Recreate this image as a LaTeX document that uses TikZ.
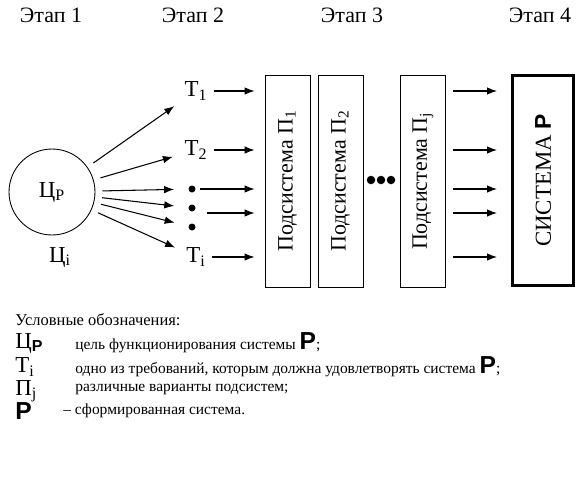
\documentclass[tikz,border=0pt]{standalone}
\usepackage{fontspec}
\setmainfont{Liberation Serif}
\newfontfamily\psans{Liberation Sans}
\usetikzlibrary{arrows.meta}
\newcommand{\sysP}{{\psans\bfseries P}}
\begin{document}
\begin{tikzpicture}[x=0.02cm, y=-0.02cm,
    stage/.style={font=\fontsize{12.5}{15}\selectfont},
    req/.style={font=\fontsize{13}{15}\selectfont, inner sep=1pt},
    dot/.style={circle, fill=black, inner sep=0pt, minimum size=0.14cm},
    subsys/.style={draw, line width=0.5pt, minimum width=0.9cm, minimum height=4.24cm},
    boxtext/.style={rotate=90, font=\fontsize{12.5}{15}\selectfont},
    arr/.style={-{Latex[length=2mm, width=1.5mm]}, line width=0.6pt},
    legsym/.style={anchor=west, font=\fontsize{13}{15}\selectfont, inner sep=0pt},
    legtext/.style={anchor=west, font=\fontsize{8.8}{10}\selectfont, inner sep=0pt}]
    \useasboundingbox (0,0) rectangle (581,484);
    % Stages
    \node[stage] (stage1) at (51,15) {Этап 1};
    \node[stage] (stage2) at (193,15) {Этап 2};
    \node[stage] (stage3) at (352,15) {Этап 3};
    \node[stage] (stage4) at (540,15) {Этап 4};
    % Goal
    \node[draw, circle, line width=0.5pt, minimum size=1.72cm, font=\fontsize{13}{15}\selectfont] (goal) at (52,192) {Ц\textsubscript{Р}};
    \node[req] (goali) at (60,257) {Ц\textsubscript{i}};
    % Requirements
    \node[req] (t1) at (196,91) {Т\textsubscript{1}};
    \node[req] (t2) at (196,150) {Т\textsubscript{2}};
    \node[dot] (d1) at (192,189) {};
    \node[dot] (d2) at (192,208) {};
    \node[dot] (d3) at (192,227) {};
    \node[req] (ti) at (196,257) {Т\textsubscript{i}};
    \coordinate (dm) at (203,213);
    % Subsystems
    \node[subsys] (p1) at (287.5,181) {};
    \node[boxtext] (p1text) at (p1) {Подсистема П\textsubscript{1}};
    \node[subsys] (p2) at (340.5,181) {};
    \node[boxtext] (p2text) at (p2) {Подсистема П\textsubscript{2}};
    \node[subsys] (pj) at (423,181) {};
    \node[boxtext] (pjtext) at (pj) {Подсистема П\textsubscript{j}};
    \foreach \x [count=\k] in {371,381,391}
        \node[dot, minimum size=0.17cm] (pdot\k) at (\x,180) {};
    % System
    \node[draw, line width=1.7pt, minimum width=1.22cm, minimum height=4.22cm] (sys) at (543,180.5) {};
    \node[boxtext, font=\fontsize{13}{15}\selectfont] (systext) at (sys) {СИСТЕМА \sysP};
    % Arrows
    \foreach \n/\s in {t1/0.2cm, t2/0.2cm, d1/0.28cm, d2/0.28cm, d3/0.28cm, ti/0.2cm}
        \draw[arr, shorten <=0.14cm, shorten >=\s] (goal) -- (\n);
    \foreach \n in {t1, t2, d1, dm, ti} {
        \draw[arr, shorten <=0.08cm, shorten >=0.2cm] (\n.east) -- (\n -| p1.west);
        \draw[arr, shorten <=0.14cm, shorten >=0.28cm] (\n -| pj.east) -- (\n -| sys.west);
    }
    % Legend
    \node[legtext, font=\fontsize{9.4}{11}\selectfont] (legtitle) at (15,320) {Условные обозначения:};
    \node[legsym] (sym1) at (15,343) {Ц\textsubscript{\sysP}};
    \node[legtext] (desc1) at (75,343) {цель функционирования системы {\fontsize{14}{15}\selectfont\sysP};};
    \node[legsym] (sym2) at (15,367) {Т\textsubscript{i}};
    \node[legtext] (desc2) at (75,367) {одно из требований, которым должна удовлетворять система {\fontsize{14}{15}\selectfont\sysP};};
    \node[legsym] (sym3) at (15,391) {П\textsubscript{j}};
    \node[legtext] (desc3) at (75,389) {различные варианты подсистем;};
    \node[legsym, font=\fontsize{14}{15}\selectfont] (sym4) at (15,411) {\sysP};
    \node[legtext] (desc4) at (63,411) {-- сформированная система.};
\end{tikzpicture}
\end{document}
